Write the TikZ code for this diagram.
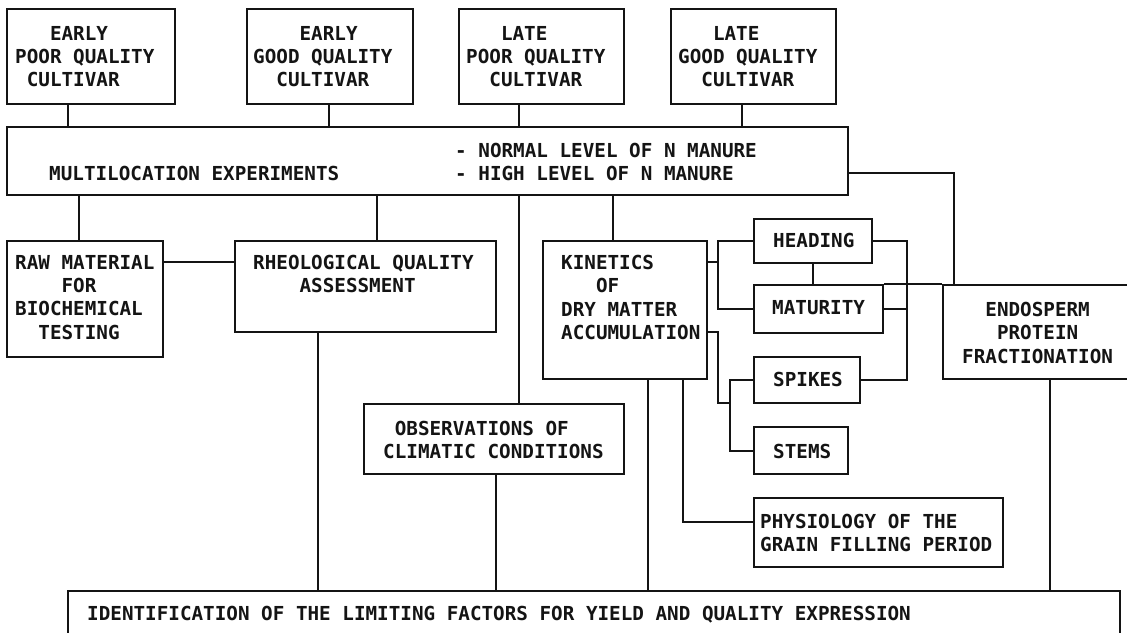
\documentclass[tikz,border=0pt]{standalone}
\usepackage{fontspec}
\newfontfamily\plotfont{DejaVu Sans Mono}
\definecolor{ink}{gray}{0.08}

% box from its corners: name, x1, y1, x2, y2
\newcommand\mkbox[5]{%
  \pgfmathsetmacro\bxw{#4-#2}\pgfmathsetmacro\bxh{#5-#3}%
  \node[box, minimum width=\bxw pt, minimum height=\bxh pt] (#1)
    at ({(#2+#4)/2},{(#3+#5)/2}) {};}

\begin{document}
\begin{tikzpicture}[x=1pt,y=-1pt,
  box/.style={draw=ink, line width=2.2pt, inner sep=0pt},
  link/.style={draw=ink, line width=2pt},
  thinlink/.style={draw=ink, line width=1.2pt},
  txt/.style={anchor=north west, inner sep=0pt, align=left, text=ink,
    font=\plotfont\bfseries\fontsize{19.27}{23.3}\selectfont}]

\useasboundingbox (0,0) rectangle (1127,632);
\clip (0,0) rectangle (1127,632);
\fill[white] (0,0) rectangle (1127,632);

% columns and rows used by the connectors
\foreach \c in {68,79,318,329,377,496,519,613,648,683,718,730,742,813,907,954,1050}
  \coordinate (c\c) at (\c,0);
\foreach \r in {173,262,332,403,522}
  \coordinate (r\r) at (0,\r);

% boxes
\mkbox{e1}{7}{9}{175}{104}
\mkbox{e2}{247}{9}{413}{104}
\mkbox{e3}{459}{9}{624}{104}
\mkbox{e4}{671}{9}{836}{104}
\mkbox{multi}{7}{127}{848}{195}
\mkbox{raw}{7}{241}{163}{357}
\mkbox{rheo}{235}{241}{496}{332}
\mkbox{kin}{543}{241}{707}{379}
\mkbox{head}{754}{219}{872}{263}
\mkbox{mat}{754}{285}{883}{333}
\mkbox{spk}{754}{357}{860}{403}
\mkbox{stm}{754}{427}{848}{474}
\mkbox{phys}{754}{498}{1003}{567}
\mkbox{endo}{943}{285}{1150}{379}
\mkbox{obs}{364}{404}{624}{474}
\mkbox{bot}{68}{591}{1120}{700}

% texts
\node[txt] (e1-t) at (15,26) {~~~EARLY\\POOR QUALITY\\~CULTIVAR};
\node[txt] (e2-t) at (253,26) {~~~~EARLY\\GOOD QUALITY\\~~CULTIVAR};
\node[txt] (e3-t) at (466,26) {~~~LATE\\POOR QUALITY\\~~CULTIVAR};
\node[txt] (e4-t) at (678,26) {~~~LATE\\GOOD QUALITY\\~~CULTIVAR};
\node[txt] (multi-t) at (49,166) {MULTILOCATION EXPERIMENTS};
\node[txt] (multi-n) at (455,143) {- NORMAL LEVEL OF N MANURE\\- HIGH LEVEL OF N MANURE};
\node[txt] (raw-t) at (15,255) {RAW MATERIAL\\~~~~FOR\\BIOCHEMICAL\\~~TESTING};
\node[txt] (rheo-t) at (253,255) {RHEOLOGICAL QUALITY\\~~~~ASSESSMENT};
\node[txt] (kin-t) at (561,255) {KINETICS\\~~~OF\\DRY MATTER\\ACCUMULATION};
\node[txt] (head-t) at (773,233) {HEADING};
\node[txt] (mat-t) at (772,300) {MATURITY};
\node[txt] (spk-t) at (773,372) {SPIKES};
\node[txt] (stm-t) at (773,444) {STEMS};
\node[txt] (phys-t) at (760,514) {PHYSIOLOGY OF THE\\GRAIN FILLING PERIOD};
\node[txt] (endo-t) at (962,302) {~~ENDOSPERM\\~~~PROTEIN\\FRACTIONATION};
\node[txt] (obs-t) at (383,421) {~OBSERVATIONS OF\\CLIMATIC CONDITIONS};
\node[txt] (bot-t) at (87,606) {IDENTIFICATION OF THE LIMITING FACTORS FOR YIELD AND QUALITY EXPRESSION};

% cultivars into the experiments
\draw[link] (e1.south -| c68) -- (multi.north -| c68);
\draw[link] (e2.south -| c329) -- (multi.north -| c329);
\draw[link] (e3.south -| c519) -- (multi.north -| c519);
\draw[link] (e4.south -| c742) -- (multi.north -| c742);

% experiments to the studies
\draw[link] (multi.south -| c79) -- (raw.north -| c79);
\draw[link] (multi.south -| c377) -- (rheo.north -| c377);
\draw[link] (multi.south -| c519) -- (obs.north -| c519);
\draw[link] (multi.south -| c613) -- (kin.north -| c613);
\draw[link] (multi.east |- r173) -| (endo.north -| c954);
\draw[thinlink] (mat.north east) -- (endo.north west);
\draw[link] (raw.east |- r262) -- (rheo.west |- r262);

% kinetics and its parts
\draw[link] (kin.east |- r262) -- (c718 |- r262);
\draw[link] (head.west) -| (c718 |- mat.west) -- (mat.west);
\draw[link] (head.south -| c813) -- (mat.north -| c813);
\draw[link] (head.east) -| (c907 |- spk.east) -- (spk.east);
\draw[link] (mat.east) -- (mat.east -| c907);
\draw[link] (kin.east |- r332) -| (c718 |- r403) -- (c730 |- r403);
\draw[link] (spk.west) -| (c730 |- stm.west) -- (stm.west);
\draw[link] (kin.south -| c683) |- (phys.west |- r522);

% everything into the final identification
\draw[link] (rheo.south -| c318) -- (bot.north -| c318);
\draw[link] (obs.south -| c496) -- (bot.north -| c496);
\draw[link] (kin.south -| c648) -- (bot.north -| c648);
\draw[link] (endo.south -| c1050) -- (bot.north -| c1050);
\end{tikzpicture}
\end{document}
